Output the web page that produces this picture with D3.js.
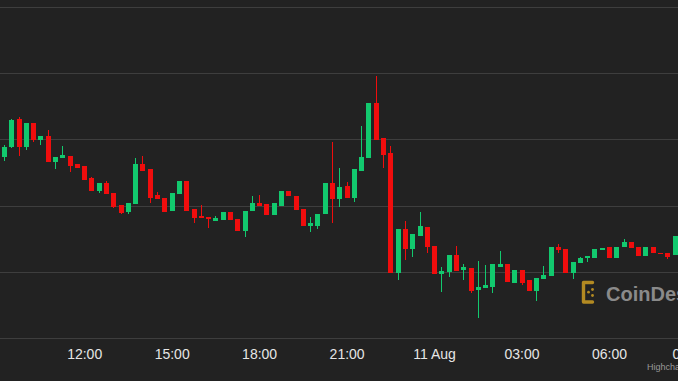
<!DOCTYPE html>
<html>
<head>
<meta charset="utf-8">
<script src="https://cdn.jsdelivr.net/npm/d3@7"></script>
<style>
  html, body { margin: 0; padding: 0; background: #222222; }
  svg { display: block; }
</style>
</head>
<body>
<div id="myChart"></div>
<script>
// 15 minute candles, 10 Aug 09:15 to 11 Aug 08:15 (UTC)
const startTime = "2023-08-10T09:15:00Z";
const stepMinutes = 15;

const opens = [29573,29588,29631,29588,29625,29599,29605,29566,29572,29575,
  29563,29560,29542,29522,29534,29519,29501,29490,29502,29563,
  29555,29516,29511,29492,29517,29537,29495,29484,29483,29477,
  29478,29490,29480,29462,29492,29504,29502,29486,29499,29522,
  29514,29495,29469,29469,29487,29534,29510,29530,29511,29552,
  29572,29655,29602,29579,29398,29465,29434,29454,29468,29439,
  29397,29400,29425,29403,29406,29372,29376,29377,29407,29412,
  29383,29403,29388,29371,29389,29394,29437,29434,29398,29413,
  29421,29421,29433,29437,29421,29437,29445,29437,29424,29437,
  29428,29428,29425];
const highs = [29591,29631,29634,29625,29625,29605,29614,29573,29590,29575,
  29563,29560,29543,29534,29537,29519,29501,29504,29572,29575,
  29555,29520,29511,29519,29537,29537,29495,29501,29483,29484,
  29490,29490,29480,29492,29514,29516,29502,29504,29522,29522,
  29514,29495,29483,29487,29534,29596,29557,29536,29555,29620,
  29655,29696,29602,29590,29465,29477,29457,29490,29468,29439,
  29407,29425,29439,29412,29406,29416,29410,29412,29431,29412,
  29403,29403,29388,29391,29409,29437,29442,29434,29415,29422,
  29424,29434,29436,29437,29437,29449,29445,29437,29437,29437,
  29428,29428,29454];
const lows = [29567,29587,29575,29584,29596,29591,29566,29555,29572,29551,
  29557,29539,29522,29519,29517,29496,29487,29487,29502,29552,
  29504,29510,29490,29492,29517,29492,29474,29481,29466,29477,
  29478,29478,29462,29453,29492,29499,29486,29486,29499,29514,
  29493,29469,29460,29465,29487,29474,29498,29511,29505,29552,
  29572,29599,29557,29398,29388,29418,29422,29454,29428,29397,
  29369,29392,29401,29388,29368,29330,29376,29368,29407,29385,
  29383,29380,29371,29356,29389,29394,29428,29398,29389,29413,
  29415,29421,29433,29421,29421,29437,29436,29424,29424,29428,
  29427,29419,29425];
const closes = [29588,29629,29588,29625,29599,29605,29566,29573,29576,29560,
  29557,29539,29522,29534,29517,29498,29489,29504,29563,29552,
  29511,29510,29490,29519,29537,29492,29481,29481,29480,29481,
  29490,29478,29462,29492,29504,29499,29486,29504,29522,29514,
  29493,29469,29474,29487,29534,29510,29528,29511,29555,29573,
  29655,29599,29576,29398,29465,29434,29457,29469,29437,29397,
  29401,29425,29401,29407,29371,29377,29380,29412,29412,29385,
  29403,29383,29371,29391,29395,29437,29433,29398,29415,29421,
  29424,29434,29436,29421,29437,29445,29436,29424,29437,29428,
  29427,29422,29454];

// x axis ticks (every 3 hours)
const tickTimes = ["2023-08-10T12:00:00Z","2023-08-10T15:00:00Z","2023-08-10T18:00:00Z",
  "2023-08-10T21:00:00Z","2023-08-11T00:00:00Z","2023-08-11T03:00:00Z",
  "2023-08-11T06:00:00Z","2023-08-11T09:00:00Z"];
// y grid lines
const priceTicks = [29300, 29400, 29500, 29600, 29700, 29800];

let width = 678, height = 381;
let fullWidth = 707; // the original chart was wider than the crop

let data = opens.map(function (o, i) {
  return {
    time: new Date(Date.parse(startTime) + i * stepMinutes * 60000),
    open: o, high: highs[i], low: lows[i], close: closes[i]
  };
});

let svg = d3.select('#myChart')
  .append('svg')
  .attr('width', width)
  .attr('height', height);

svg.append('rect')
  .attr('width', width)
  .attr('height', height)
  .attr('fill', '#222222');

let x = d3.scaleUtc()
  .domain([new Date("2023-08-10T09:00:00Z"), new Date("2023-08-11T09:30:00Z")])
  .range([-3.3, 711.1]);

let y = d3.scaleLinear()
  .domain([29300, 29800])
  .range([338, 7]);

// grid lines
svg.append('g')
  .selectAll('line')
  .data(priceTicks)
  .enter()
  .append('line')
  .attr('x1', 0)
  .attr('x2', width)
  .attr('y1', function (d) { return Math.round(y(d)) + 0.5; })
  .attr('y2', function (d) { return Math.round(y(d)) + 0.5; })
  .attr('stroke', '#3e3e3e')
  .attr('stroke-width', 1);

// watermark (logo + name)
let wm = svg.append('g').attr('class', 'watermark');
wm.append('path')
  .attr('d', 'M592.5,282.5 H583.5 V302 H592.5')
  .attr('fill', 'none')
  .attr('stroke', '#b38a22')
  .attr('stroke-width', 3.4)
  .attr('stroke-linejoin', 'round')
  .attr('stroke-linecap', 'round');
wm.selectAll('circle')
  .data([[592.5, 289.5], [592.5, 295.5], [588.5, 292.2]])
  .enter()
  .append('circle')
  .attr('cx', function (d) { return d[0]; })
  .attr('cy', function (d) { return d[1]; })
  .attr('r', 1.4)
  .attr('fill', '#b38a22');
wm.append('text')
  .attr('x', 606)
  .attr('y', 301)
  .attr('font-family', 'Liberation Sans, Arial, sans-serif')
  .attr('font-weight', 'bold')
  .attr('font-size', '20px')
  .attr('fill', '#8a8a8a')
  .text('CoinDesk');

// candles
let candles = svg.append('g')
  .attr('shape-rendering', 'crispEdges')
  .selectAll('g')
  .data(data)
  .enter()
  .append('g');

function candleColor(d) { return d.close >= d.open ? '#12c96e' : '#f00d0d'; }

candles.append('line')
  .attr('x1', function (d) { return Math.round(x(d.time)) + 0.5; })
  .attr('x2', function (d) { return Math.round(x(d.time)) + 0.5; })
  .attr('y1', function (d) { return y(d.high); })
  .attr('y2', function (d) { return y(d.low); })
  .attr('stroke', candleColor)
  .attr('stroke-width', 1);

candles.append('rect')
  .attr('x', function (d) { return Math.round(x(d.time)) - 2; })
  .attr('width', 5)
  .attr('y', function (d) { return y(Math.max(d.open, d.close)); })
  .attr('height', function (d) { return Math.max(1, Math.abs(y(d.open) - y(d.close))); })
  .attr('fill', candleColor);

// x axis
let fmt = function (d) {
  return d.getUTCHours() === 0 ? d3.utcFormat('%d %b')(d) : d3.utcFormat('%H:%M')(d);
};
let xAxis = svg.append('g')
  .attr('transform', 'translate(0,338)')
  .call(d3.axisBottom(x)
    .tickValues(tickTimes.map(function (t) { return new Date(t); }))
    .tickFormat(fmt)
    .tickSize(0)
    .tickPadding(11));
xAxis.select('.domain').remove();
xAxis.selectAll('text')
  .attr('font-family', 'Liberation Sans, Arial, sans-serif')
  .attr('font-size', '14px')
  .attr('fill', '#e6e6e6')
  .each(function (d) {
    // keep labels inside the chart like the original (justify)
    let w = this.getComputedTextLength();
    let right = x(d) + w / 2;
    if (right > fullWidth) d3.select(this).attr('x', fullWidth - right);
  });

// credits
svg.append('text')
  .attr('x', 647)
  .attr('y', 370)
  .attr('font-family', 'Liberation Sans, Arial, sans-serif')
  .attr('font-size', '9px')
  .attr('fill', '#999999')
  .text('Highcharts.com');
</script>
</body>
</html>
